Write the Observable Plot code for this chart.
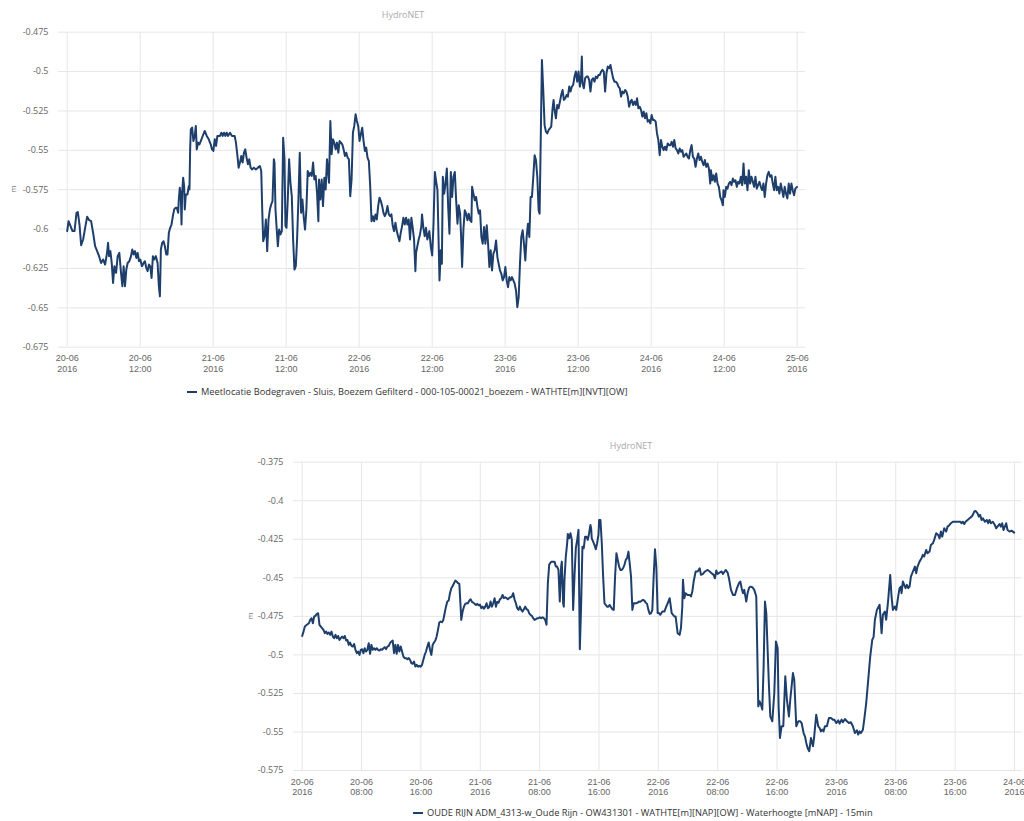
<!DOCTYPE html>
<html><head><meta charset="utf-8">
<script src="https://cdn.jsdelivr.net/npm/d3@7"></script>
<script src="https://cdn.jsdelivr.net/npm/@observablehq/plot@0.6"></script>
<style>
body{margin:0;background:#fff;width:1024px;height:821px;position:relative;overflow:hidden;font-family:"Open Sans",sans-serif;}
.abs{position:absolute;}
.title{font-size:9px;color:#aaa;line-height:10px;transform:translateX(-50%);white-space:nowrap;}
.legend{font-size:9.25px;color:#333;line-height:12px;white-space:nowrap;}
.swatch{display:inline-block;width:10px;height:2px;background:#1e3f6b;vertical-align:middle;margin-right:4px;position:relative;top:-1px;}
.ylab{font-size:8px;color:#777;line-height:8px;transform:translate(-50%,-50%) rotate(-90deg);}
</style></head><body>
<div class="abs title" style="left:403px;top:10px">HydroNET</div>
<div id="c1" class="abs" style="left:0;top:0"></div>
<div class="abs ylab" style="left:13px;top:189px">m</div>
<div class="abs legend" style="left:187px;top:386px"><span class="swatch"></span>Meetlocatie Bodegraven - Sluis, Boezem Gefilterd - 000-105-00021_boezem - WATHTE[m][NVT][OW]</div>

<div class="abs title" style="left:631px;top:441px">HydroNET</div>
<div id="c2" class="abs" style="left:230px;top:440px"></div>
<div class="abs ylab" style="left:250px;top:616px">m</div>
<div class="abs legend" style="left:413px;top:807px"><span class="swatch"></span>OUDE RIJN ADM_4313-w_Oude Rijn - OW431301 - WATHTE[m][NAP][OW] - Waterhoogte [mNAP] - 15min</div>
<script>
// ---- data: [hours since 20-06-2016 00:00, level in m] ----
const topSeries = [[0,-0.6013],[0.22,-0.5950],[0.55,-0.5981],[0.87,-0.6013],[1.20,-0.6013],[1.53,-0.5897],[1.75,-0.5892],[2.02,-0.5971],[2.29,-0.6102],[2.62,-0.6066],[2.95,-0.5992],[3.28,-0.5922],[3.60,-0.5943],[3.93,-0.5950],[4.26,-0.6024],[4.59,-0.6109],[4.92,-0.6140],[5.24,-0.6172],[5.57,-0.6215],[5.90,-0.6193],[6.23,-0.6225],[6.55,-0.6151],[6.72,-0.6087],[6.88,-0.6172],[7.10,-0.6140],[7.32,-0.6215],[7.54,-0.6342],[7.76,-0.6236],[8.03,-0.6278],[8.30,-0.6172],[8.57,-0.6151],[8.85,-0.6278],[9.07,-0.6363],[9.28,-0.6236],[9.50,-0.6363],[9.72,-0.6257],[9.94,-0.6215],[10.21,-0.6204],[10.49,-0.6172],[10.70,-0.6130],[10.92,-0.6161],[11.14,-0.6140],[11.36,-0.6183],[11.58,-0.6151],[11.80,-0.6204],[12.02,-0.6193],[12.29,-0.6236],[12.56,-0.6215],[12.78,-0.6204],[13.00,-0.6246],[13.22,-0.6267],[13.44,-0.6225],[13.65,-0.6236],[13.87,-0.6310],[14.09,-0.6172],[14.31,-0.6193],[14.58,-0.6172],[14.86,-0.6215],[15.07,-0.6363],[15.24,-0.6427],[15.40,-0.6130],[15.62,-0.6087],[15.84,-0.6077],[16.06,-0.6109],[16.28,-0.6161],[16.49,-0.6161],[16.71,-0.6024],[16.93,-0.5992],[17.15,-0.5971],[17.37,-0.5918],[17.59,-0.5875],[17.80,-0.5865],[18.02,-0.5865],[18.24,-0.5897],[18.35,-0.5812],[18.51,-0.5738],[18.68,-0.5791],[18.79,-0.5971],[18.90,-0.5769],[19.06,-0.5674],[19.22,-0.5727],[19.33,-0.5875],[19.50,-0.5780],[19.77,-0.5780],[19.99,-0.5727],[20.10,-0.5748],[20.21,-0.5494],[20.32,-0.5367],[20.54,-0.5356],[20.75,-0.5441],[20.97,-0.5409],[21.14,-0.5345],[21.30,-0.5494],[21.52,-0.5451],[21.74,-0.5462],[21.96,-0.5441],[22.28,-0.5409],[22.61,-0.5377],[22.94,-0.5409],[23.27,-0.5430],[23.59,-0.5462],[23.81,-0.5494],[24.03,-0.5504],[24.25,-0.5430],[24.47,-0.5472],[24.69,-0.5409],[24.90,-0.5409],[25.12,-0.5409],[25.34,-0.5388],[25.56,-0.5409],[25.78,-0.5388],[26.00,-0.5409],[26.22,-0.5388],[26.43,-0.5409],[26.76,-0.5388],[27.09,-0.5409],[27.31,-0.5409],[27.53,-0.5409],[27.74,-0.5451],[27.96,-0.5525],[28.18,-0.5610],[28.40,-0.5578],[28.62,-0.5536],[28.84,-0.5578],[29.06,-0.5515],[29.27,-0.5494],[29.49,-0.5547],[29.71,-0.5589],[29.93,-0.5557],[30.15,-0.5610],[30.37,-0.5621],[30.69,-0.5610],[31.02,-0.5621],[31.35,-0.5610],[31.68,-0.5600],[31.90,-0.5632],[32.06,-0.5875],[32.22,-0.6077],[32.44,-0.6045],[32.66,-0.5939],[32.88,-0.6140],[33.10,-0.5939],[33.32,-0.5875],[33.53,-0.5844],[33.75,-0.5822],[33.97,-0.5557],[34.08,-0.5578],[34.24,-0.5875],[34.41,-0.5981],[34.63,-0.6109],[34.84,-0.6003],[35.06,-0.6034],[35.28,-0.6013],[35.50,-0.5420],[35.72,-0.5557],[35.88,-0.5981],[36.05,-0.5992],[36.26,-0.5812],[36.48,-0.5557],[36.70,-0.5706],[36.92,-0.5791],[37.14,-0.6066],[37.36,-0.6257],[37.58,-0.6236],[37.79,-0.6066],[38.01,-0.5812],[38.23,-0.5515],[38.45,-0.5897],[38.67,-0.5812],[38.89,-0.5928],[39.10,-0.6003],[39.32,-0.5875],[39.54,-0.5632],[39.76,-0.5663],[39.98,-0.5642],[40.20,-0.5663],[40.42,-0.5578],[40.63,-0.5685],[40.85,-0.5663],[41.07,-0.5769],[41.29,-0.5950],[41.40,-0.5685],[41.62,-0.5812],[41.84,-0.5685],[42.05,-0.5854],[42.27,-0.5674],[42.49,-0.5748],[42.71,-0.5557],[42.93,-0.5653],[43.04,-0.5706],[43.26,-0.5314],[43.47,-0.5525],[43.69,-0.5430],[43.91,-0.5451],[44.13,-0.5494],[44.35,-0.5451],[44.57,-0.5515],[44.78,-0.5441],[45.00,-0.5451],[45.22,-0.5462],[45.44,-0.5494],[45.66,-0.5536],[45.88,-0.5515],[46.10,-0.5547],[46.31,-0.5557],[46.53,-0.5791],[46.75,-0.5685],[46.97,-0.5388],[47.19,-0.5345],[47.41,-0.5271],[47.62,-0.5314],[47.84,-0.5345],[48.06,-0.5441],[48.28,-0.5398],[48.50,-0.5356],[48.72,-0.5441],[48.94,-0.5504],[49.15,-0.5483],[49.37,-0.5547],[49.59,-0.5568],[49.81,-0.5727],[50.03,-0.5950],[50.25,-0.5918],[50.46,-0.5950],[50.68,-0.5907],[50.90,-0.5939],[51.12,-0.5854],[51.34,-0.5801],[51.56,-0.5822],[51.78,-0.5854],[51.99,-0.5897],[52.21,-0.5918],[52.43,-0.5897],[52.65,-0.5854],[52.87,-0.5907],[53.09,-0.5918],[53.30,-0.5907],[53.52,-0.5981],[53.74,-0.6013],[53.96,-0.5960],[54.18,-0.6013],[54.40,-0.6045],[54.62,-0.6077],[54.83,-0.6024],[55.05,-0.5981],[55.27,-0.5928],[55.49,-0.5971],[55.71,-0.5928],[55.93,-0.5971],[56.14,-0.5939],[56.36,-0.6066],[56.58,-0.5928],[56.80,-0.5992],[57.02,-0.6066],[57.24,-0.6267],[57.35,-0.6151],[57.56,-0.6109],[57.78,-0.6066],[58.00,-0.6034],[58.22,-0.5981],[58.33,-0.5907],[58.55,-0.5992],[58.77,-0.6045],[58.98,-0.5992],[59.20,-0.6066],[59.53,-0.6013],
[59.78,-0.6114],[60.00,-0.6167],[60.22,-0.5966],[60.44,-0.5637],[60.66,-0.5700],[60.87,-0.5753],[61.04,-0.6050],[61.20,-0.6326],[61.42,-0.6135],[61.59,-0.6220],[61.75,-0.5668],[61.97,-0.5775],[62.19,-0.5711],[62.41,-0.5615],[62.63,-0.5859],[62.84,-0.6029],[63.06,-0.5637],[63.28,-0.5796],[63.50,-0.5668],[63.72,-0.5637],[63.94,-0.5817],[64.16,-0.5966],[64.37,-0.5849],[64.59,-0.5902],[64.76,-0.6050],[64.92,-0.6241],[65.14,-0.5997],[65.36,-0.5881],[65.58,-0.5902],[65.80,-0.5944],[66.01,-0.5902],[66.23,-0.5944],[66.45,-0.5955],[66.56,-0.5732],[66.78,-0.5775],[67.00,-0.5817],[67.22,-0.5796],[67.44,-0.5859],[67.65,-0.5902],[67.87,-0.5881],[68.09,-0.6050],[68.31,-0.6093],[68.53,-0.5987],[68.75,-0.6093],[68.97,-0.5976],[69.19,-0.6093],[69.40,-0.6241],[69.62,-0.6135],[69.84,-0.6263],[70.06,-0.6156],[70.28,-0.6135],[70.50,-0.6072],[70.72,-0.6178],[70.93,-0.6220],[71.15,-0.6263],[71.37,-0.6284],[71.59,-0.6326],[71.81,-0.6305],[72.03,-0.6241],[72.25,-0.6326],[72.47,-0.6369],[72.68,-0.6305],[72.90,-0.6326],[73.12,-0.6305],[73.34,-0.6326],[73.56,-0.6347],[73.78,-0.6390],[74.00,-0.6496],[74.22,-0.6432],[74.43,-0.6220],[74.65,-0.6050],[74.87,-0.6008],[75.09,-0.6093],[75.31,-0.6199],[75.53,-0.6050],[75.75,-0.5966],[75.97,-0.6050],[76.18,-0.5796],[76.40,-0.5796],[76.62,-0.5668],[76.84,-0.5531],[77.06,-0.5562],[77.28,-0.5668],[77.50,-0.5881],[77.66,-0.5902],[77.82,-0.5499],[78.04,-0.4926],[78.26,-0.5117],[78.48,-0.5340],[78.70,-0.5382],[78.92,-0.5393],[79.14,-0.5371],[79.35,-0.5361],[79.57,-0.5350],[79.79,-0.5233],[79.96,-0.5180],[80.12,-0.5244],[80.34,-0.5297],[80.56,-0.5212],[80.78,-0.5233],[81.00,-0.5191],[81.21,-0.5149],[81.43,-0.5117],[81.65,-0.5180],[81.87,-0.5170],[82.09,-0.5149],[82.31,-0.5159],[82.53,-0.5095],[82.74,-0.5127],[82.96,-0.5095],[83.18,-0.5085],[83.40,-0.5032],[83.62,-0.5000],[83.84,-0.5064],[84.06,-0.5000],[84.28,-0.5095],[84.49,-0.5021],[84.60,-0.4905],[84.71,-0.5074],[84.93,-0.5106],[85.15,-0.5042],[85.37,-0.5032],[85.59,-0.5032],[85.81,-0.5053],[86.02,-0.5127],[86.24,-0.5053],[86.46,-0.5042],[86.68,-0.5064],[86.90,-0.5032],[87.12,-0.5042],[87.34,-0.5021],[87.56,-0.5021],[87.77,-0.5000],[87.99,-0.4989],[88.21,-0.5000],[88.43,-0.5127],[88.65,-0.5011],[88.87,-0.4968],[89.09,-0.4979],[89.31,-0.4958],[89.52,-0.5000],[89.74,-0.5042],[89.96,-0.5064],[90.18,-0.5064],[90.40,-0.5074],[90.62,-0.5095],[90.84,-0.5106],[91.06,-0.5159],[91.27,-0.5127],[91.49,-0.5138],[91.71,-0.5117],[91.93,-0.5127],[92.15,-0.5159],[92.37,-0.5223],[92.59,-0.5191],[92.80,-0.5180],[93.02,-0.5212],[93.24,-0.5191],[93.46,-0.5212],[93.68,-0.5170],[93.90,-0.5233],[94.12,-0.5223],[94.34,-0.5244],[94.55,-0.5286],[94.77,-0.5255],[94.99,-0.5297],[95.21,-0.5265],[95.43,-0.5318],[95.65,-0.5308],[95.87,-0.5329],[96.08,-0.5276],[96.30,-0.5308],[96.52,-0.5308],[96.74,-0.5318],[96.96,-0.5393],[97.18,-0.5435],[97.40,-0.5531],[97.62,-0.5435],[97.83,-0.5477],[98.05,-0.5499],[98.27,-0.5477],[98.49,-0.5499],[98.71,-0.5456],[98.93,-0.5467],[99.15,-0.5467],[99.37,-0.5446],[99.58,-0.5477],[99.80,-0.5435],[100.02,-0.5488],[100.24,-0.5499],[100.46,-0.5520],[100.68,-0.5488],[100.90,-0.5509],[101.12,-0.5499],[101.33,-0.5541],[101.55,-0.5531],[101.77,-0.5520],[101.99,-0.5541],[102.21,-0.5552],[102.43,-0.5499],[102.65,-0.5467],[102.86,-0.5541],[103.08,-0.5552],[103.30,-0.5605],[103.52,-0.5552],[103.74,-0.5520],[103.96,-0.5562],[104.18,-0.5541],[104.40,-0.5573],[104.61,-0.5594],[104.83,-0.5562],[105.05,-0.5605],[105.27,-0.5584],[105.49,-0.5615],[105.71,-0.5711],[105.82,-0.5626],[106.04,-0.5690],[106.25,-0.5658],[106.47,-0.5700],[106.69,-0.5647],[106.91,-0.5711],[107.13,-0.5732],[107.35,-0.5796],[107.57,-0.5817],[107.79,-0.5849],[107.89,-0.5753],[108.11,-0.5796],[108.33,-0.5732],[108.55,-0.5743],[108.77,-0.5711],[108.99,-0.5700],[109.21,-0.5721],[109.43,-0.5679],[109.64,-0.5700],[109.86,-0.5690],[110.08,-0.5732],[110.30,-0.5700],[110.52,-0.5711],[110.74,-0.5668],[110.96,-0.5721],[111.18,-0.5584],[111.39,-0.5711],[111.61,-0.5668],[111.83,-0.5753],[112.05,-0.5626],[112.27,-0.5711],[112.49,-0.5668],[112.71,-0.5700],[112.92,-0.5732],[113.14,-0.5668],[113.36,-0.5743],[113.58,-0.5721],[113.80,-0.5700],[114.02,-0.5732],[114.24,-0.5753],[114.46,-0.5711],[114.67,-0.5796],[114.89,-0.5711],[115.11,-0.5658],[115.33,-0.5637],[115.55,-0.5668],[115.77,-0.5658],[115.99,-0.5711],[116.21,-0.5753],[116.42,-0.5668],[116.64,-0.5753],[116.86,-0.5732],[117.08,-0.5775],[117.30,-0.5711],[117.52,-0.5753],[117.74,-0.5796],[117.95,-0.5732],[118.17,-0.5775],[118.39,-0.5806],[118.61,-0.5711],[118.83,-0.5775],[119.05,-0.5711],[119.27,-0.5753],[119.49,-0.5785],[119.70,-0.5743],[119.98,-0.5732]];

const bottomSeries = [[0,-0.4877],[0.18,-0.4849],[0.36,-0.4816],[0.63,-0.4805],[0.90,-0.4795],[1.08,-0.4773],[1.26,-0.4762],[1.44,-0.4795],[1.62,-0.4751],[1.79,-0.4747],[1.97,-0.4734],[2.15,-0.4730],[2.33,-0.4805],[2.51,-0.4816],[2.69,-0.4827],[2.87,-0.4838],[3.05,-0.4859],[3.23,-0.4849],[3.41,-0.4864],[3.59,-0.4855],[3.77,-0.4870],[3.95,-0.4849],[4.13,-0.4881],[4.31,-0.4892],[4.49,-0.4870],[4.67,-0.4892],[4.85,-0.4877],[5.02,-0.4903],[5.20,-0.4892],[5.38,-0.4881],[5.56,-0.4892],[5.74,-0.4877],[5.92,-0.4907],[6.10,-0.4903],[6.28,-0.4935],[6.46,-0.4920],[6.64,-0.4942],[6.82,-0.4946],[7.00,-0.4929],[7.18,-0.4967],[7.36,-0.4989],[7.54,-0.4978],[7.72,-0.5000],[7.90,-0.4967],[8.08,-0.4963],[8.25,-0.4989],[8.43,-0.4957],[8.61,-0.4978],[8.79,-0.4967],[8.97,-0.4924],[9.15,-0.4993],[9.33,-0.4935],[9.51,-0.4967],[9.69,-0.4957],[9.87,-0.4967],[10.05,-0.4957],[10.23,-0.4967],[10.41,-0.4972],[10.59,-0.4963],[10.77,-0.4967],[10.95,-0.4957],[11.13,-0.4950],[11.31,-0.4963],[11.48,-0.4946],[11.66,-0.4942],[11.84,-0.4924],[12.02,-0.4913],[12.20,-0.4907],[12.38,-0.4989],[12.56,-0.4935],[12.74,-0.4993],[12.92,-0.4935],[13.10,-0.4978],[13.28,-0.4946],[13.46,-0.4978],[13.64,-0.5011],[13.82,-0.5021],[14.00,-0.5021],[14.18,-0.5028],[14.36,-0.5021],[14.54,-0.5032],[14.71,-0.5054],[14.89,-0.5058],[15.07,-0.5043],[15.25,-0.5076],[15.43,-0.5065],[15.61,-0.5076],[15.79,-0.5071],[15.97,-0.5076],[16.15,-0.5065],[16.33,-0.5032],[16.51,-0.5000],[16.69,-0.4978],[16.87,-0.4946],[17.05,-0.4920],[17.23,-0.4967],[17.41,-0.5000],[17.59,-0.4935],[17.77,-0.4920],[17.95,-0.4907],[18.12,-0.4881],[18.30,-0.4838],[18.48,-0.4790],[18.66,-0.4784],[18.84,-0.4788],[19.02,-0.4773],[19.20,-0.4730],[19.38,-0.4687],[19.56,-0.4654],[19.74,-0.4648],[19.92,-0.4600],[20.10,-0.4568],[20.28,-0.4553],[20.46,-0.4535],[20.64,-0.4518],[20.82,-0.4524],[21.00,-0.4535],[21.18,-0.4540],[21.35,-0.4687],[21.44,-0.4773],[21.62,-0.4719],[21.80,-0.4687],[21.98,-0.4669],[22.16,-0.4665],[22.34,-0.4665],[22.52,-0.4648],[22.70,-0.4639],[22.88,-0.4656],[23.06,-0.4661],[23.24,-0.4669],[23.42,-0.4676],[23.60,-0.4669],[23.78,-0.4678],[23.96,-0.4674],[24.14,-0.4697],[24.32,-0.4687],[24.50,-0.4700],[24.67,-0.4687],[24.85,-0.4665],[25.03,-0.4697],[25.21,-0.4691],[25.39,-0.4654],[25.57,-0.4687],[25.75,-0.4665],[25.93,-0.4632],[26.11,-0.4687],[26.29,-0.4656],[26.47,-0.4661],[26.65,-0.4639],[26.83,-0.4632],[27.01,-0.4611],[27.19,-0.4632],[27.37,-0.4626],[27.55,-0.4632],[27.73,-0.4639],[27.91,-0.4630],[28.08,-0.4626],[28.26,-0.4622],[28.44,-0.4600],[28.62,-0.4639],[28.80,-0.4665],[28.98,-0.4697],[29.16,-0.4708],[29.34,-0.4687],[29.52,-0.4708],[29.70,-0.4719],[29.88,-0.4704],[30.06,-0.4687],[30.24,-0.4704],[30.42,-0.4708],[30.60,-0.4730],[30.78,-0.4741],[30.96,-0.4747],[31.13,-0.4762],[31.31,-0.4773],[31.49,-0.4769],[31.67,-0.4762],[31.85,-0.4762],[32.03,-0.4756],[32.21,-0.4762],[32.39,-0.4756],[32.57,-0.4762],[32.75,-0.4773],[32.93,-0.4805],[33.11,-0.4535],[33.29,-0.4416],[33.47,-0.4401],[33.65,-0.4395],[33.83,-0.4395],[34.01,-0.4395],[34.19,-0.4427],[34.36,-0.4427],[34.54,-0.4449],[34.72,-0.4654],[34.90,-0.4427],[34.99,-0.4395],[35.17,-0.4665],[35.26,-0.4687],[35.35,-0.4514],[35.53,-0.4362],[35.71,-0.4276],[35.80,-0.4215],[35.98,-0.4244],[36.16,-0.4211],[36.34,-0.4254],[36.52,-0.4708],[36.70,-0.4492],[36.88,-0.4308],[37.06,-0.4254],[37.24,-0.4189],[37.42,-0.4963],[37.59,-0.4687],[37.77,-0.4298],[37.95,-0.4308],[38.13,-0.4233],[38.31,-0.4233],[38.49,-0.4254],[38.67,-0.4211],[38.85,-0.4157],[38.94,-0.4179],[39.03,-0.4244],[39.21,-0.4265],[39.39,-0.4287],[39.57,-0.4315],[39.75,-0.4276],[39.93,-0.4222],[40.02,-0.4125],[40.20,-0.4125],[40.38,-0.4276],[40.56,-0.4492],[40.74,-0.4665],[40.91,-0.4676],[41.09,-0.4687],[41.27,-0.4687],[41.45,-0.4676],[41.63,-0.4691],[41.81,-0.4704],[41.99,-0.4708],[42.17,-0.4492],[42.35,-0.4341],[42.53,-0.4384],[42.71,-0.4427],[42.89,-0.4449],[43.07,-0.4449],[43.25,-0.4438],[43.43,-0.4416],[43.61,-0.4384],[43.79,-0.4373],[43.97,-0.4330],[44.14,-0.4406],[44.32,-0.4492],[44.50,-0.4708],[44.68,-0.4665],[44.86,-0.4665],[45.04,-0.4665],[45.22,-0.4661],[45.40,-0.4654],[45.58,-0.4656],[45.76,-0.4648],[45.94,-0.4643],[46.12,-0.4648],[46.30,-0.4661],[46.48,-0.4669],[46.66,-0.4708],[46.84,-0.4734],[47.02,-0.4730],
[47.19,-0.4708],[47.37,-0.4492],[47.55,-0.4315],[47.73,-0.4427],[47.91,-0.4729],[48.09,-0.4729],[48.27,-0.4740],[48.54,-0.4719],[48.81,-0.4719],[49.08,-0.4686],[49.35,-0.4654],[49.53,-0.4632],[49.80,-0.4729],[50.16,-0.4751],[50.33,-0.4751],[50.60,-0.4859],[50.87,-0.4870],[51.05,-0.4826],[51.23,-0.4686],[51.32,-0.4513],[51.50,-0.4632],[51.68,-0.4600],[51.95,-0.4611],[52.22,-0.4611],[52.40,-0.4621],[52.58,-0.4589],[52.76,-0.4524],[53.03,-0.4459],[53.30,-0.4459],[53.57,-0.4438],[53.75,-0.4481],[54.02,-0.4475],[54.29,-0.4459],[54.65,-0.4449],[54.92,-0.4459],[55.18,-0.4470],[55.45,-0.4481],[55.63,-0.4503],[55.81,-0.4453],[55.99,-0.4475],[56.26,-0.4466],[56.53,-0.4459],[56.71,-0.4475],[57.07,-0.4449],[57.34,-0.4466],[57.52,-0.4503],[57.79,-0.4578],[58.06,-0.4611],[58.33,-0.4611],[58.60,-0.4567],[58.87,-0.4535],[59.05,-0.4524],[59.23,-0.4567],[59.41,-0.4600],[59.58,-0.4578],[59.85,-0.4654],[60.03,-0.4600],[60.21,-0.4567],[60.39,-0.4557],[60.66,-0.4561],[60.93,-0.4578],[61.20,-0.4621],[61.47,-0.5334],[61.65,-0.5301],[61.83,-0.5323],[62.01,-0.5355],[62.19,-0.5075],[62.37,-0.4654],[62.55,-0.4729],[62.73,-0.4967],[62.91,-0.5204],[63.09,-0.5399],[63.36,-0.5431],[63.63,-0.5247],[63.85,-0.4913],[64.08,-0.4956],[64.21,-0.5334],[64.39,-0.5539],[64.61,-0.5463],[64.84,-0.5463],[65.11,-0.5139],[65.33,-0.5291],[65.60,-0.5399],[65.78,-0.5291],[66.14,-0.5118],[66.32,-0.5161],[66.59,-0.5463],[66.86,-0.5431],[67.13,-0.5431],[67.31,-0.5442],[67.58,-0.5507],[67.76,-0.5528],[67.94,-0.5571],[68.12,-0.5604],[68.34,-0.5625],[68.57,-0.5539],[68.84,-0.5593],[69.01,-0.5528],[69.28,-0.5388],[69.55,-0.5463],[69.73,-0.5474],[69.91,-0.5496],[70.09,-0.5485],[70.27,-0.5496],[70.45,-0.5463],[70.72,-0.5463],[70.99,-0.5409],[71.26,-0.5409],[71.53,-0.5420],[71.71,-0.5420],[71.98,-0.5442],[72.25,-0.5425],[72.43,-0.5446],[72.70,-0.5420],[72.88,-0.5437],[73.15,-0.5416],[73.42,-0.5431],[73.68,-0.5442],[73.95,-0.5437],[74.22,-0.5463],[74.49,-0.5507],[74.76,-0.5489],[74.94,-0.5517],[75.12,-0.5496],[75.30,-0.5507],[75.57,-0.5485],[75.75,-0.5420],[76.02,-0.5312],[76.29,-0.5161],[76.56,-0.5010],[76.83,-0.4902],[77.01,-0.4885],[77.19,-0.4772],[77.46,-0.4708],[77.82,-0.4675],[78.09,-0.4859],[78.26,-0.4740],[78.53,-0.4719],[78.71,-0.4772],[78.98,-0.4643],[79.25,-0.4481],[79.43,-0.4621],[79.61,-0.4708],[79.88,-0.4686],[80.06,-0.4708],[80.33,-0.4621],[80.51,-0.4567],[80.69,-0.4557],[80.78,-0.4600],[80.96,-0.4524],[81.14,-0.4546],[81.32,-0.4567],[81.50,-0.4546],[81.68,-0.4567],[81.86,-0.4557],[82.04,-0.4492],[82.31,-0.4459],[82.58,-0.4427],[82.76,-0.4470],[82.93,-0.4427],[83.20,-0.4395],[83.47,-0.4373],[83.65,-0.4351],[83.83,-0.4362],[84.10,-0.4319],[84.28,-0.4341],[84.55,-0.4330],[84.73,-0.4287],[85.00,-0.4276],[85.18,-0.4254],[85.45,-0.4211],[85.72,-0.4222],[85.90,-0.4244],[86.08,-0.4200],[86.26,-0.4233],[86.53,-0.4179],[86.80,-0.4200],[86.98,-0.4168],[87.25,-0.4157],[87.43,-0.4146],[87.70,-0.4136],[87.97,-0.4136],[88.33,-0.4136],[88.69,-0.4136],[88.87,-0.4146],[89.05,-0.4136],[89.23,-0.4151],[89.41,-0.4136],[89.68,-0.4125],[89.95,-0.4114],[90.22,-0.4103],[90.39,-0.4092],[90.57,-0.4071],[90.75,-0.4066],[91.02,-0.4082],[91.20,-0.4103],[91.38,-0.4092],[91.56,-0.4125],[91.74,-0.4114],[92.01,-0.4136],[92.27,-0.4125],[92.45,-0.4146],[92.63,-0.4125],[92.81,-0.4146],[93.08,-0.4136],[93.35,-0.4157],[93.53,-0.4179],[93.71,-0.4168],[93.98,-0.4151],[94.16,-0.4168],[94.34,-0.4146],[94.52,-0.4190],[94.70,-0.4168],[94.88,-0.4146],[95.06,-0.4190],[95.33,-0.4200],[95.60,-0.4194],[95.96,-0.4207]];

// ---- axes ----
const topYTicks = [-0.675,-0.65,-0.625,-0.6,-0.575,-0.55,-0.525,-0.5,-0.475];
const topXTickHours = [0,12,24,36,48,60,72,84,96,108,120];
const topXTickLabels = ["20-06\n2016","20-06\n12:00","21-06\n2016","21-06\n12:00","22-06\n2016","22-06\n12:00","23-06\n2016","23-06\n12:00","24-06\n2016","24-06\n12:00","25-06\n2016"];
const bottomYTicks = [-0.575,-0.55,-0.525,-0.5,-0.475,-0.45,-0.425,-0.4,-0.375];
const bottomXTickHours = [0,8,16,24,32,40,48,56,64,72,80,88,96];
const bottomXTickLabels = ["20-06\n2016","20-06\n08:00","20-06\n16:00","21-06\n2016","21-06\n08:00","21-06\n16:00","22-06\n2016","22-06\n08:00","22-06\n16:00","23-06\n2016","23-06\n08:00","23-06\n16:00","24-06\n2016"];

const t0 = Date.UTC(2016, 5, 20);
const toDate = h => new Date(t0 + h * 3600e3);
const lineColor = "#1e3f6b";
const gridColor = "#e6e6e6";

function makeChart({series, yTicks, tickHours, tickLabels, xRange, width, height, margins}) {
  const data = series.map(([h, v]) => ({date: toDate(h), level: v}));
  const tickDates = tickHours.map(toDate);
  const labelOf = new Map(tickDates.map((d, i) => [+d, tickLabels[i]]));
  return Plot.plot({
    width, height,
    marginLeft: margins[0], marginRight: margins[1], marginTop: margins[2], marginBottom: margins[3],
    style: {fontFamily: "'Open Sans', sans-serif", fontSize: "9px", color: "#666", background: "transparent", overflow: "visible"},
    x: {type: "utc", domain: [toDate(xRange[0]), toDate(xRange[1])]},
    y: {domain: [yTicks[0], yTicks[yTicks.length - 1]]},
    marks: [
      Plot.gridY(yTicks, {stroke: gridColor, strokeOpacity: 1}),
      Plot.gridX(tickDates, {stroke: gridColor, strokeOpacity: 1}),
      Plot.axisY(yTicks, {tickSize: 0, tickPadding: 10, tickFormat: d => String(d), label: null}),
      Plot.axisX(tickDates, {tickSize: 0, tickPadding: 7, tickFormat: d => labelOf.get(+d), label: null,
        fontFamily: "'Liberation Sans', sans-serif", fontSize: 9, lineHeight: 1.13}),
      Plot.line(data, {x: "date", y: "level", stroke: lineColor, strokeWidth: 2, strokeLinejoin: "round"})
    ]
  });
}

document.getElementById("c1").appendChild(makeChart({
  series: topSeries, yTicks: topYTicks, tickHours: topXTickHours, tickLabels: topXTickLabels,
  xRange: [-1.43, 121.37], width: 820, height: 380, margins: [58, 15, 31.7, 33.3]
}));
document.getElementById("c2").appendChild(makeChart({
  series: bottomSeries, yTicks: bottomYTicks, tickHours: bottomXTickHours, tickLabels: bottomXTickLabels,
  xRange: [-1.17, 97.08], width: 794, height: 360, margins: [63, 2, 21.7, 30]
}));
</script>
</body></html>
